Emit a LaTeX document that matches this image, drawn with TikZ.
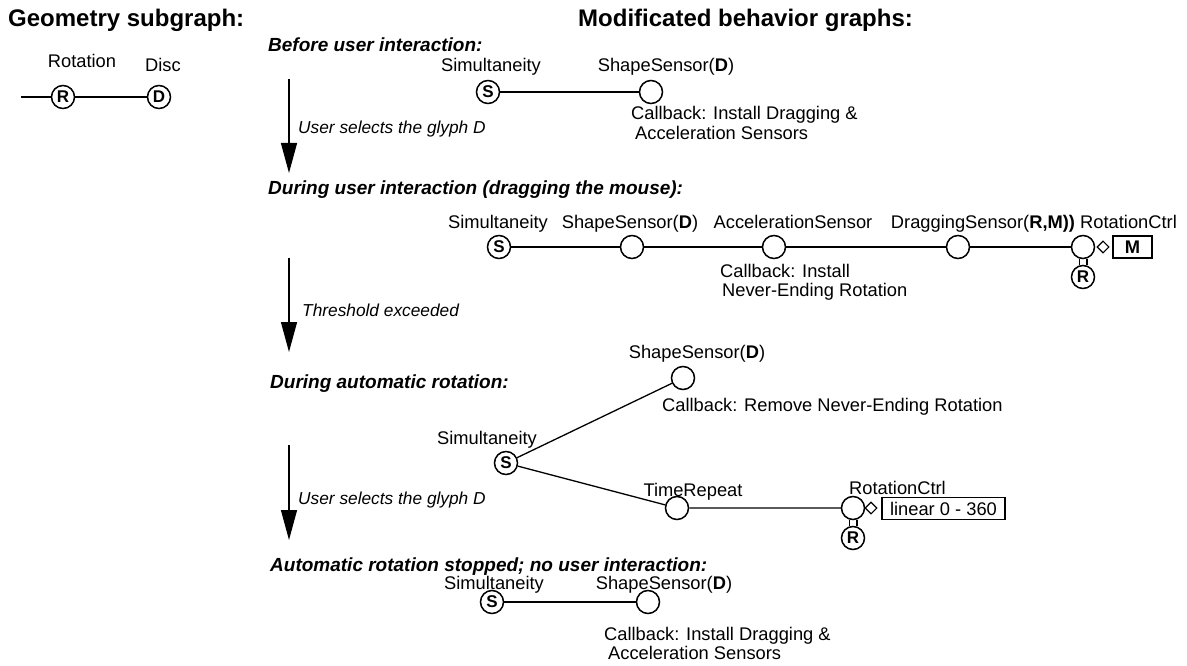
\documentclass[tikz,border=0pt]{standalone}
\usepackage{fontspec}
\setmainfont{Liberation Sans}
\usetikzlibrary{arrows.meta,shapes.geometric}
\tikzset{
  vnode/.style={circle,draw,line width=1.5pt,minimum size=23pt,inner sep=0pt,fill=white},
  lnode/.style={vnode,font=\fontsize{17}{17}\selectfont\bfseries},
  lbl/.style={font=\fontsize{18.3}{18.3}\selectfont,inner sep=0pt,anchor=base},
  lblw/.style={lbl,anchor=base west},
  conn/.style={line width=1.3pt},
  hdr/.style={font=\fontsize{24}{24}\selectfont\bfseries,inner sep=0pt,anchor=base west},
  subh/.style={font=\fontsize{19}{19}\selectfont\bfseries\itshape,inner sep=0pt,anchor=base west},
  alab/.style={font=\fontsize{17.3}{17.3}\selectfont\itshape,inner sep=0pt,anchor=base west},
  cbk/.style={font=\fontsize{18.3}{19.5}\selectfont,inner sep=0pt,align=left,anchor=north west},
  bigarrow/.style={line width=1.3pt,-{Triangle[length=30pt,width=16pt]}},
  dmd/.style={diamond,draw,line width=1.1pt,minimum size=12pt,inner sep=0pt,fill=white},
  valbox/.style={draw,line width=1.3pt,inner sep=0pt,minimum height=22pt,font=\fontsize{18.3}{18.3}\selectfont},
}
\begin{document}
\begin{tikzpicture}[x=1pt,y=-1pt]
\useasboundingbox (0,0) rectangle (1187,666);
% headers
\node[hdr] (h1) at (8,26.6) {Geometry subgraph:};
\node[hdr] (h2) at (578,26.6) {Modificated behavior graphs:};
% geometry subgraph
\coordinate (g0) at (21,97);
\node[lnode] (gR) at (63,97) {R};
\node[lnode] (gD) at (159,97) {D};
\node[lbl] (gRl) at (82,67.5) {Rotation};
\node[lbl] (gDl) at (163,71.5) {Disc};
\draw[conn] (g0) -- (gR) -- (gD);
% before user interaction
\node[subh] (s1) at (268,51.8) {Before user interaction:};
\node[lnode] (aS) at (488,92) {S};
\node[vnode] (aSS) at (651,92) {};
\node[lbl] (aSl) at (491,71.5) {Simultaneity};
\node[lbl] (aSSl) at (666,71.5) {ShapeSensor(\textbf{D})};
\node[cbk] (acb) at (631,106.5) {Callback: Install Dragging \&\\\hspace*{4pt}Acceleration Sensors};
\draw[conn] (aS) -- (aSS);
% arrow 1
\coordinate (a1s) at (289,79);
\coordinate (a1e) at (289,173);
\draw[bigarrow] (a1s) -- (a1e);
\node[alab] (a1l) at (298,134) {User selects the glyph D};
% during user interaction
\node[subh] (s2) at (268,194.8) {During user interaction (dragging the mouse):};
\node[lnode] (bS) at (499,247) {S};
\node[vnode] (bSS) at (632,247) {};
\node[vnode] (bAC) at (774,247) {};
\node[vnode] (bDS) at (958,247) {};
\node[vnode] (bRC) at (1083,247) {};
\node[lnode] (bR) at (1083,277) {R};
\node[dmd] (bdm) at (1103,247) {};
\node[valbox,minimum width=39pt,font=\fontsize{18.3}{18.3}\selectfont\bfseries] (bM) at (1132.5,247) {M};
\node[lbl] (bSl) at (498,228.5) {Simultaneity};
\node[lbl] (bSSl) at (630,228.5) {ShapeSensor(\textbf{D})};
\node[lbl] (bACl) at (793,228.5) {AccelerationSensor};
\node[lbl] (bDSl) at (983,228.5) {DraggingSensor(\textbf{R,M))}};
\node[lblw] (bRCl) at (1080,228.5) {RotationCtrl};
\node[cbk] (bcb) at (720,264) {Callback: Install\\\hspace*{2pt}Never-Ending Rotation};
\draw[conn] (bS) -- (bSS) -- (bAC) -- (bDS) -- (bRC);
\draw[conn] (bRC.-108.5) -- (bR.108.5);
\draw[conn] (bRC.-71.5) -- (bR.71.5);
% arrow 2
\coordinate (a2s) at (289,258);
\coordinate (a2e) at (289,352);
\draw[bigarrow] (a2s) -- (a2e);
\node[alab] (a2l) at (302,316) {Threshold exceeded};
% during automatic rotation
\node[subh] (s3) at (270,388) {During automatic rotation:};
\node[lnode] (cS) at (506,463) {S};
\node[vnode] (cSS) at (683,378) {};
\node[vnode] (cTR) at (677,508) {};
\node[vnode] (cRC) at (853,508) {};
\node[lnode] (cR) at (853,538) {R};
\node[dmd] (cdm) at (871,508) {};
\node[valbox,minimum width=123pt] (cL) at (943.5,508.5) {linear 0 - 360};
\node[lbl] (cSl) at (487,444.5) {Simultaneity};
\node[lbl] (cSSl) at (697,358) {ShapeSensor(\textbf{D})};
\node[lbl] (cTRl) at (693,496.5) {TimeRepeat};
\node[lblw] (cRCl) at (849,494.5) {RotationCtrl};
\node[lblw] (ccb) at (662,411.5) {Callback: Remove Never-Ending Rotation};
\draw[conn] (cS) -- (cSS);
\draw[conn] (cS) -- (cTR) -- (cRC);
\draw[conn] (cRC.-108.5) -- (cR.108.5);
\draw[conn] (cRC.-71.5) -- (cR.71.5);
% arrow 3
\coordinate (a3s) at (289,445);
\coordinate (a3e) at (289,540);
\draw[bigarrow] (a3s) -- (a3e);
\node[alab] (a3l) at (298,504) {User selects the glyph D};
% automatic rotation stopped
\node[subh] (s4) at (270,571.5) {Automatic rotation stopped; no user interaction:};
\node[lnode] (dS) at (492,602) {S};
\node[vnode] (dSS) at (648,602) {};
\node[lbl] (dSl) at (494,589) {Simultaneity};
\node[lbl] (dSSl) at (664,589) {ShapeSensor(\textbf{D})};
\node[cbk] (dcb) at (604,627) {Callback: Install Dragging \&\\\hspace*{4pt}Acceleration Sensors};
\draw[conn] (dS) -- (dSS);
\end{tikzpicture}
\end{document}
